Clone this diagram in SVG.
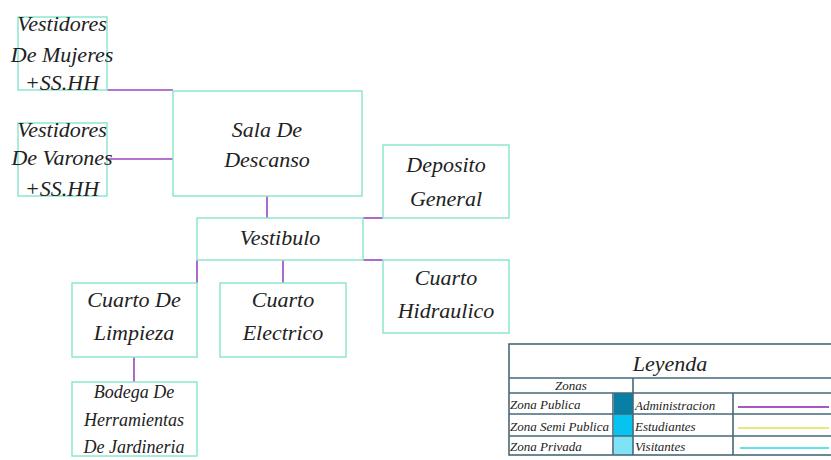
<svg xmlns="http://www.w3.org/2000/svg" width="831" height="460" viewBox="0 0 831 460">
<style>
  .box{fill:#fff;stroke:#8fe6cf;stroke-width:1.5}
  .t{font-family:"Liberation Serif","DejaVu Serif",serif;font-style:italic;font-size:22px;fill:#222;text-anchor:middle}
  .ts{font-size:18px}
  .c{stroke:#9a45bf;stroke-width:1.6;fill:none}
  .lg{fill:none;stroke:#46697a;stroke-width:1.6}
  .lt{font-family:"Liberation Serif","DejaVu Serif",serif;font-style:italic;font-size:13px;fill:#222}
</style>
<rect width="831" height="460" fill="#fff"/>
<g id="connectors">
  <path class="c" d="M107 90H173"/>
  <path class="c" d="M107 159H173"/>
  <path class="c" d="M267 196V218"/>
  <path class="c" d="M363 218H383"/>
  <path class="c" d="M363 260H383"/>
  <path class="c" d="M197 260V283"/>
  <path class="c" d="M283 260V283"/>
  <path class="c" d="M134 357V382"/>
</g>
<g id="vestidores-mujeres">
  <rect class="box" x="18" y="17" width="89" height="73"/>
  <text class="t" x="62" y="31">Vestidores</text>
  <text class="t" x="62" y="62">De Mujeres</text>
  <text class="t" x="62" y="90">+SS.HH</text>
</g>
<g id="vestidores-varones">
  <rect class="box" x="18" y="123" width="89" height="73"/>
  <text class="t" x="62" y="137">Vestidores</text>
  <text class="t" x="62" y="165">De Varones</text>
  <text class="t" x="62" y="196">+SS.HH</text>
</g>
<g id="sala-descanso">
  <rect class="box" x="173" y="91" width="189" height="105"/>
  <text class="t" x="267" y="137">Sala De</text>
  <text class="t" x="267" y="167">Descanso</text>
</g>
<g id="deposito-general">
  <rect class="box" x="383" y="145" width="126" height="73"/>
  <text class="t" x="446" y="172">Deposito</text>
  <text class="t" x="446" y="206">General</text>
</g>
<g id="vestibulo">
  <rect class="box" x="197" y="218" width="166" height="42"/>
  <text class="t" x="280" y="245">Vestibulo</text>
</g>
<g id="cuarto-hidraulico">
  <rect class="box" x="383" y="260" width="126" height="73"/>
  <text class="t" x="446" y="285">Cuarto</text>
  <text class="t" x="446" y="318">Hidraulico</text>
</g>
<g id="cuarto-limpieza">
  <rect class="box" x="72" y="283" width="125" height="74"/>
  <text class="t" x="134" y="307">Cuarto De</text>
  <text class="t" x="134" y="340">Limpieza</text>
</g>
<g id="cuarto-electrico">
  <rect class="box" x="220" y="283" width="126" height="74"/>
  <text class="t" x="283" y="307">Cuarto</text>
  <text class="t" x="283" y="340">Electrico</text>
</g>
<g id="bodega">
  <rect class="box" x="72" y="382" width="125" height="74"/>
  <text class="t ts" x="134" y="398">Bodega De</text>
  <text class="t ts" x="134" y="426">Herramientas</text>
  <text class="t ts" x="134" y="453">De Jardineria</text>
</g>
<g id="leyenda">
  <rect x="614" y="393" width="19" height="21" fill="#0a7fa6"/>
  <rect x="614" y="414" width="19" height="22" fill="#06c3f0"/>
  <rect x="614" y="436" width="19" height="19" fill="#80e2f5"/>
  <rect class="lg" x="509" y="344" width="330" height="111"/>
  <path class="lg" d="M509 378H839M509 393H839M509 414H839M509 436H839M633 378V455M613 393V455M733 393V455"/>
  <text class="t" x="670" y="371">Leyenda</text>
  <text class="lt" x="571" y="390" text-anchor="middle">Zonas</text>
  <text class="lt" x="510" y="409">Zona Publica</text>
  <text class="lt" x="510" y="431">Zona Semi Publica</text>
  <text class="lt" x="510" y="451">Zona Privada</text>
  <text class="lt" x="635" y="410">Administracion</text>
  <text class="lt" x="635" y="431">Estudiantes</text>
  <text class="lt" x="635" y="451">Visitantes</text>
  <path d="M738 407H829" stroke="#a659c6" stroke-width="2"/>
  <path d="M738 428H829" stroke="#e9e97a" stroke-width="2"/>
  <path d="M740 448H829" stroke="#5fe3ee" stroke-width="2"/>
</g>
</svg>
